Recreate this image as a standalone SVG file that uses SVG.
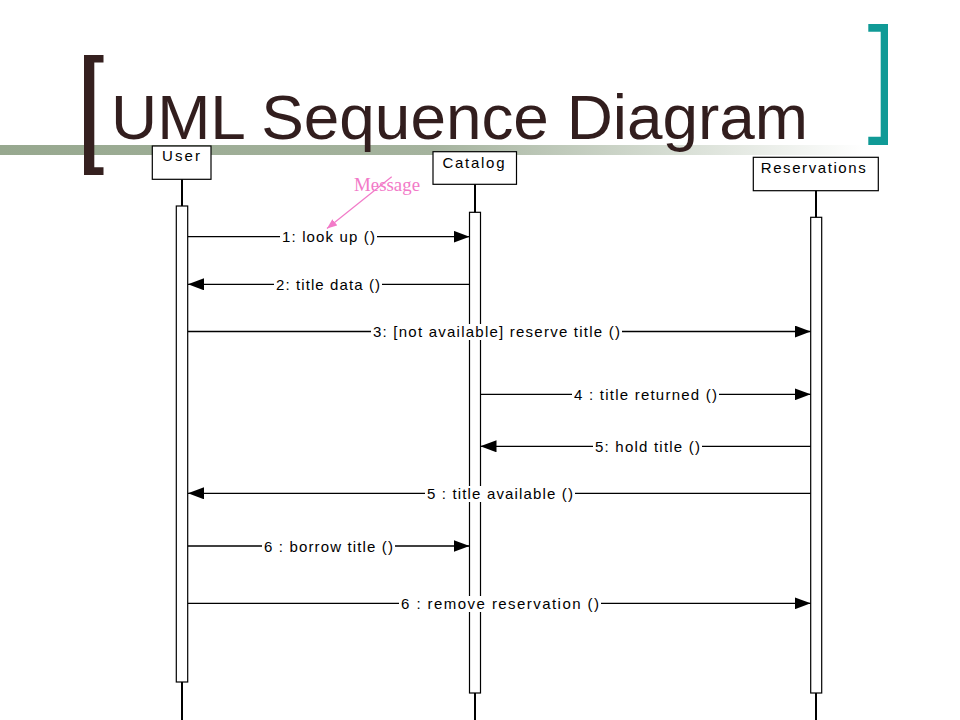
<svg xmlns="http://www.w3.org/2000/svg" width="960" height="720" viewBox="0 0 960 720">
<style>
.title{font-family:"Liberation Sans",Arial,sans-serif;font-size:63px;fill:#321e1e}
.hdr{font-family:"Liberation Sans",Arial,sans-serif;font-size:15px;fill:#000}
.lbl{font-family:"Liberation Sans",Arial,sans-serif;font-size:15px;fill:#000}
.box{fill:#fff;stroke:#000;stroke-width:1.2}
.life{stroke:#000;stroke-width:2;fill:none}
.msg{stroke:#000;stroke-width:1.3;fill:none;marker-end:url(#arr)}
.bg{fill:#fff}
</style>
<defs>
<linearGradient id="bar" x1="0" y1="0" x2="960" y2="0" gradientUnits="userSpaceOnUse">
<stop offset="0" stop-color="#97a88f"/>
<stop offset="0.45" stop-color="#a5b39e"/>
<stop offset="0.7" stop-color="#d6ddd3"/>
<stop offset="0.9" stop-color="#ffffff"/>
</linearGradient>
<marker id="arr" markerUnits="userSpaceOnUse" markerWidth="16" markerHeight="12" refX="16" refY="6" orient="auto">
<path d="M0,0 L16,6 L0,12 z" fill="#000"/>
</marker>
<marker id="parr" markerUnits="userSpaceOnUse" markerWidth="10" markerHeight="8" refX="10" refY="4" orient="auto">
<path d="M0,0 L10,4 L0,8 z" fill="#f27ac8"/>
</marker>
</defs>
<rect width="960" height="720" fill="#fff"/>
<g id="decor">
<rect x="0" y="145" width="960" height="10" fill="url(#bar)"/>
<path d="M84,55 H103.5 V62.5 H94.3 V167.3 H103.5 V175 H84 Z" fill="#35201f"/>
<path d="M868.3,24 H888 V145 H868.3 V136.7 H880.7 V31.7 H868.3 Z" fill="#109a96"/>
<text class="title" x="111" y="139" textLength="697" lengthAdjust="spacingAndGlyphs">UML Sequence Diagram</text>
</g>
<g id="user">
<line class="life" x1="182" y1="179" x2="182" y2="720"/>
<rect class="box" x="152.3" y="146" width="58.7" height="33.3"/>
<text class="hdr" x="162" y="161" textLength="38" lengthAdjust="spacing">User</text>
<rect class="box" x="176.3" y="206" width="11.4" height="476"/>
</g>
<g id="catalog">
<line class="life" x1="475" y1="184" x2="475" y2="720"/>
<rect class="box" x="433" y="151.7" width="83.5" height="32.6"/>
<text class="hdr" x="442.5" y="167.5" textLength="62" lengthAdjust="spacing">Catalog</text>
<rect class="box" x="469.5" y="212.3" width="11" height="480.7"/>
</g>
<g id="reservations">
<line class="life" x1="816" y1="190" x2="816" y2="720"/>
<rect class="box" x="753.3" y="157.3" width="125" height="33.4"/>
<text class="hdr" x="760.7" y="172.5" textLength="105" lengthAdjust="spacing">Reservations</text>
<rect class="box" x="810.7" y="217.3" width="11" height="475.7"/>
</g>
<g id="connectors">
<line class="msg" x1="188" y1="236.7" x2="469.5" y2="236.7"/>
<line class="msg" x1="469.5" y1="284.3" x2="188" y2="284.3"/>
<line class="msg" x1="188" y1="331.5" x2="810.7" y2="331.5"/>
<line class="msg" x1="480.5" y1="394.3" x2="810.7" y2="394.3"/>
<line class="msg" x1="810.7" y1="446.3" x2="480.5" y2="446.3"/>
<line class="msg" x1="810.7" y1="493.3" x2="188" y2="493.3"/>
<line class="msg" x1="188" y1="546" x2="469.5" y2="546"/>
<line class="msg" x1="188" y1="603.3" x2="810.7" y2="603.3"/>
</g>
<g id="labels">
<rect class="bg" x="280" y="229" width="97" height="16"/>
<text class="lbl" x="282" y="242" textLength="93" lengthAdjust="spacing">1: look up ()</text>
<rect class="bg" x="274" y="277" width="108" height="16"/>
<text class="lbl" x="276" y="289.5" textLength="104" lengthAdjust="spacing">2: title data ()</text>
<rect class="bg" x="371" y="324" width="251" height="16"/>
<text class="lbl" x="373" y="337" textLength="247" lengthAdjust="spacing">3: [not available] reserve title ()</text>
<rect class="bg" x="572" y="387" width="147" height="16"/>
<text class="lbl" x="574" y="399.5" textLength="143" lengthAdjust="spacing">4 : title returned ()</text>
<rect class="bg" x="593" y="439" width="109" height="16"/>
<text class="lbl" x="595" y="451.5" textLength="105" lengthAdjust="spacing">5: hold title ()</text>
<rect class="bg" x="425" y="486" width="150" height="16"/>
<text class="lbl" x="427" y="498.5" textLength="146" lengthAdjust="spacing">5 : title available ()</text>
<rect class="bg" x="262" y="539" width="133" height="16"/>
<text class="lbl" x="264" y="551.5" textLength="129" lengthAdjust="spacing">6 : borrow title ()</text>
<rect class="bg" x="399" y="596" width="202" height="16"/>
<text class="lbl" x="401" y="608.5" textLength="198" lengthAdjust="spacing">6 : remove reservation ()</text>
</g>
<g id="note">
<text x="354" y="191" font-family="Liberation Serif,'Times New Roman',serif" font-size="18" fill="#f27ac8" textLength="66" lengthAdjust="spacingAndGlyphs">Message</text>
<line x1="391.7" y1="176.7" x2="327" y2="228.5" stroke="#f27ac8" stroke-width="1.2" marker-end="url(#parr)"/>
</g>
</svg>
